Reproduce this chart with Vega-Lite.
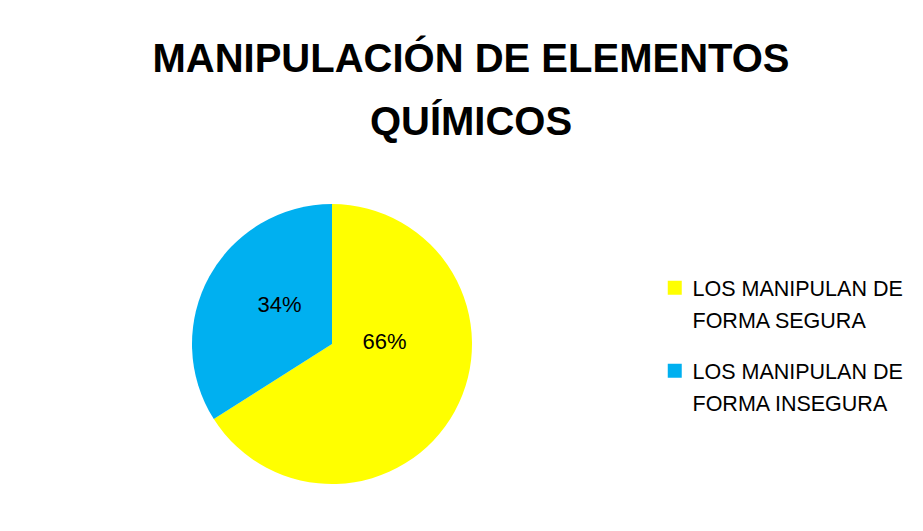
{
  "$schema": "https://vega.github.io/schema/vega-lite/v6.json",
  "autosize": "none",
  "width": 280,
  "height": 280,
  "padding": {"left": 192, "top": 204, "right": 451, "bottom": 47},
  "background": "white",
  "title": {
    "text": ["MANIPULACIÓN DE ELEMENTOS", "QUÍMICOS"],
    "anchor": "middle",
    "frame": "group",
    "dx": 139,
    "offset": 61,
    "font": "Liberation Sans",
    "fontSize": 40,
    "fontWeight": "bold",
    "color": "#000000",
    "lineHeight": 63
  },
  "data": {
    "values": [
      {"categoria": "LOS MANIPULAN DE FORMA SEGURA", "valor": 66, "etiqueta": "66%"},
      {"categoria": "LOS MANIPULAN DE FORMA INSEGURA", "valor": 34, "etiqueta": "34%"}
    ]
  },
  "encoding": {
    "theta": {"field": "valor", "type": "quantitative", "stack": true},
    "order": {"field": "valor", "type": "quantitative", "sort": "descending"}
  },
  "layer": [
    {
      "mark": {"type": "arc", "stroke": null},
      "encoding": {
        "color": {
          "field": "categoria",
          "type": "nominal",
          "scale": {
            "domain": ["LOS MANIPULAN DE FORMA SEGURA", "LOS MANIPULAN DE FORMA INSEGURA"],
            "range": ["#FFFF00", "#00B0F0"]
          },
          "legend": {
            "title": null,
            "orient": "none",
            "legendX": 472,
            "legendY": 73,
            "padding": 0,
            "symbolType": "square",
            "symbolSize": 196,
            "symbolStrokeWidth": 0,
            "labelFont": "Liberation Sans",
            "labelFontSize": 21.5,
            "labelColor": "#000000",
            "labelLimit": 400,
            "labelOffset": 7,
            "labelBaseline": "alphabetic",
            "rowPadding": 27,
            "labelExpr": "[slice(datum.label, 0, 16), slice(datum.label, 17)]"
          }
        }
      }
    },
    {
      "mark": {"type": "text", "radius": 60, "dy": -31, "font": "Liberation Sans", "fontSize": 22, "color": "#000000"},
      "encoding": {
        "text": {"condition": {"test": "datum.valor > 50", "field": "etiqueta"}, "value": ""}
      }
    },
    {
      "mark": {"type": "text", "radius": 60, "dy": -10, "font": "Liberation Sans", "fontSize": 22, "color": "#000000"},
      "encoding": {
        "text": {"condition": {"test": "datum.valor < 50", "field": "etiqueta"}, "value": ""}
      }
    }
  ],
  "config": {
    "view": {"stroke": null},
    "style": {"guide-label": {"lineHeight": 32, "dy": 8}}
  }
}
